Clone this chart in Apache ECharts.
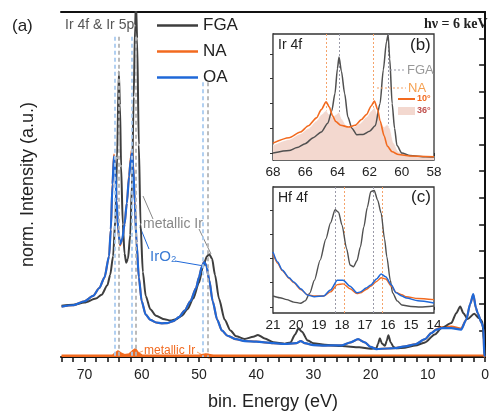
<!DOCTYPE html>
<html>
<head>
<meta charset="utf-8">
<script src="https://cdn.jsdelivr.net/npm/echarts@6.0.0/dist/echarts.min.js"></script>
<style>
  html, body { margin: 0; padding: 0; background: #fff; }
  #chart { width: 492px; height: 416px; }
</style>
</head>
<body>
<div id="chart"></div>
<script>
// main panel (a): valence + Ir 4f / 5p region
const fgaE = [74,72,70,68,67,66,65.5,65,64.6,64.3,64.0,63.8,63.6,63.3,63.0,62.7,62.4,62.0,61.7,61.4,61.15,61.0,60.8,60.5,60.2,59.8,59.3,58.5,57.5,56,55,54,53,52,51,50,49.3,48.6,48.2,47.7,47.2,46.5,45.5,44.5,43.5,42,40.5,39.7,38.5,37,35,34,33.2,32.6,32,31,30,28,25,22,20,19,18.7,18.4,18.0,17.5,17.2,16.9,16.5,16.0,15.5,14,12.2,10.5,8.8,7.6,5.9,5.05,4.35,3.8,3.05,1.9,1.03,0.47,0.2,0.05]
const fgaI = [1.93,1.97,2.05,2.2,2.35,2.7,3.1,3.8,5.2,7.5,10.76,9.5,7.2,5.0,3.9,3.55,3.7,4.6,6.5,9.8,12.5,13.4,12,8,5,3.2,2.3,1.8,1.55,1.42,1.38,1.42,1.55,1.8,2.2,2.8,3.4,3.8,3.87,3.7,3.1,2.2,1.4,1.0,0.78,0.68,0.76,0.83,0.7,0.56,0.5,0.55,0.85,1.08,0.95,0.62,0.52,0.46,0.41,0.37,0.31,0.33,0.5,0.71,0.5,0.42,0.6,0.82,0.55,0.38,0.33,0.35,0.43,0.55,0.85,1.09,1.28,1.65,1.9,1.65,1.43,1.63,1.46,1.34,0.6,0.05]

const oaE = [74,72,70,68.5,67.4,66.5,65.7,65.4,65.1,64.85,64.6,64.4,64.1,63.8,63.4,63.0,62.6,62.2,61.9,61.7,61.5,61.2,60.9,60.5,60.0,59.3,58.5,57.5,56.5,55.5,54.5,53.5,52.5,51.5,50.5,50.0,49.5,49.1,48.7,48.2,47.6,46.8,46,45,43.5,42,40,37,35,33,32.2,31.5,30,28,25,23.5,22.2,21,20,19,17,16,14,12.2,10.5,9.4,8.5,7.6,5.9,4.2,3.3,2.6,2.07,1.6,1.3,0.6,0.3,0.15,0]
const oaI = [1.9,1.95,2.1,2.3,2.6,3.0,3.8,4.8,6.5,7.56,7.0,5.9,4.8,4.25,4.45,5.0,5.8,6.8,7.45,7.67,7.2,5.8,4.3,3.0,2.1,1.6,1.4,1.3,1.27,1.28,1.35,1.5,1.75,2.1,2.6,3.0,3.4,3.58,3.45,2.9,2.1,1.4,1.0,0.8,0.67,0.6,0.58,0.52,0.49,0.52,0.6,0.52,0.45,0.43,0.44,0.55,0.67,0.55,0.38,0.3,0.32,0.33,0.4,0.48,0.67,0.9,1.03,1.09,1.09,1.03,1.4,2.0,2.37,1.85,1.65,1.28,1.1,0.04,0.02]
const naI = [1.9,1.95,2.1,2.3,2.6,3.0,3.8,4.8,6.55,7.63,7.05,5.9,4.75,4.2,4.42,5.0,5.8,6.85,7.55,7.82,7.3,5.85,4.3,3.0,2.1,1.6,1.4,1.3,1.27,1.28,1.35,1.5,1.75,2.1,2.6,3.0,3.4,3.6,3.45,2.9,2.1,1.4,1.0,0.8,0.67,0.6,0.58,0.52,0.49,0.52,0.6,0.52,0.45,0.43,0.44,0.55,0.67,0.55,0.38,0.3,0.32,0.33,0.4,0.48,0.67,0.9,1.05,1.12,1.15,1.07,1.4,2.0,2.35,1.85,1.65,1.28,1.1,0.04,0.02]

// metallic Ir component (orange, bottom)
const metE = [74,66,65,64.5,64.1,63.6,63.0,62.2,61.6,61.1,60.6,60.0,50,48.8,48.3,47.5,46,0.3,0]
const metI = [0.06,0.06,0.07,0.16,0.22,0.13,0.08,0.1,0.22,0.3,0.15,0.07,0.06,0.1,0.09,0.06,0.06,0.06,0]

// peak positions (dashed guides)
const oaPeaks = [64.7, 61.7, 49.3]
const fgaPeaks = [64.0, 61.0, 48.4]
const guideTops = [12.07, 12.07, 10.35]

// inset (b): Ir 4f
const bFgaE = [68,67,66.5,66,65.5,65,64.6,64.35,64.15,64.0,63.9,63.75,63.55,63.35,63.1,62.8,62.4,62.0,61.65,61.35,61.15,60.95,60.85,60.75,60.6,60.45,60.3,60.0,59.5,58.5,58]
const bFgaI = [0,0.1,0.22,0.38,0.62,0.85,1.2,1.7,2.4,3.4,3.87,3.3,2.4,1.45,1.0,0.74,0.75,0.88,1.1,2.0,3.35,4.5,4.77,3.8,2.0,1.0,0.3,0,-0.1,-0.15,-0.16]
const bNa10E = [68,67,66.3,65.8,65.3,65.0,64.7,64.5,64.3,64.1,63.8,63.3,62.9,62.5,62.2,61.9,61.7,61.5,61.35,61.1,60.9,60.6,60.2,59.5,58]
const bNa10I = [0.4,0.62,0.85,1.1,1.42,1.75,2.07,1.85,1.5,1.27,1.12,1.05,1.12,1.35,1.55,1.9,2.1,1.75,1.3,0.7,0.28,0.05,-0.06,-0.12,-0.15]
const bNa36E = [68,67,66.3,65.8,65.3,65.0,64.7,64.5,64.3,64.1,63.9,63.7,63.4,63.0,62.6,62.2,61.9,61.7,61.5,61.3,61.1,60.9,60.75,60.5,60.2,59.5,58]
const bNa36I = [0.32,0.55,0.78,1.0,1.3,1.55,1.72,1.55,1.45,1.55,1.65,1.35,1.05,1.05,1.2,1.45,1.7,1.85,1.55,1.2,1.05,1.15,1.0,0.4,0.05,-0.1,-0.15]
const bFgaPeaks = [63.9, 60.85]
const bNaPeaks = [64.7, 61.75]

// inset (c): Hf 4f
const cFgaE = [21,20.7,20.4,20.1,19.8,19.6,19.4,19.2,18.95,18.7,18.5,18.3,18.15,18.0,17.8,17.65,17.5,17.35,17.2,17.05,16.9,16.75,16.6,16.45,16.3,16.15,16.05,15.9,15.8,15.6,15.4,15.0,14.6,14.0]
const cFgaI = [0.45,0.38,0.3,0.2,0.15,0.25,0.57,1.1,1.93,2.8,3.46,4.0,3.9,3.37,2.4,1.73,1.65,1.9,2.47,3.3,4.1,4.75,4.8,4.4,3.87,2.8,2.06,1.1,0.58,0.25,0.08,0.02,0,0.04]
const cE = [21,20.8,20.6,20.3,20.1,19.8,19.5,19.2,18.8,18.5,18.2,17.95,17.65,17.35,17.2,16.95,16.75,16.5,16.3,16.1,15.85,15.65,15.4,15.2,14.7,14.0]
const cOaI = [2.26,1.85,1.52,1.2,1.03,0.75,0.49,0.42,0.45,0.7,1.1,1.1,0.85,0.58,0.62,0.78,0.9,1.15,1.36,1.24,0.9,0.58,0.45,0.37,0.25,0.16]
const cNaI = [2.2,1.8,1.5,1.18,1.0,0.72,0.5,0.45,0.45,0.62,0.92,0.95,0.75,0.55,0.58,0.72,0.85,1.05,1.2,1.15,0.85,0.6,0.5,0.42,0.35,0.3]
const cFgaPeaks = [18.3, 16.65]
const cNaPeaks = [17.9, 16.25]

const mainXTicks = [0,2,4,6,8,10,12,14,16,18,20,22,24,26,28,30,32,34,36,38,40,42,44,46,48,50,52,54,56,58,60,62,64,66,68,70,72,74]
const mainXLabels = [0,10,20,30,40,50,60,70]
const mainYTicks = [1,2,3,4,5,6,7,8,9,10,11,12]

const GRAY = '#3e3e3e'
const ORANGE = '#f26a1f'
const BLUE = '#1f68d8'
// a flat bar used as legend icon, so the legend shows only a line
const LINE_ICON = 'path://M0,0 L40,0 L40,2.2 L0,2.2 Z'

const zip = (xs, ys) => xs.map((x, i) => [x, ys[i]])

function curve (name, xi, yi, xs, ys, color, width, extra) {
  return Object.assign({
    name: name,
    type: 'line',
    xAxisIndex: xi,
    yAxisIndex: yi,
    data: zip(xs, ys),
    symbol: 'none',
    smooth: 0.25,
    smoothMonotone: 'x',
    lineStyle: { color: color, width: width },
    itemStyle: { color: color }
  }, extra || {})
}

function vlines (vals, color) {
  return vals.map(v => ({ xAxis: v, lineStyle: { color: color } }))
}

const mainGuides = []
oaPeaks.forEach((e, i) => {
  mainGuides.push([{ coord: [e, guideTops[i]], lineStyle: { color: '#a9cbf0' } }, { coord: [e, 0] }])
})
fgaPeaks.forEach((e, i) => {
  mainGuides.push([{ coord: [e, guideTops[i]], lineStyle: { color: '#b4b4b4' } }, { coord: [e, 0] }])
})

const axisLineDark = { show: true, lineStyle: { color: '#111', width: 2 } }
const insetLine = { show: true, lineStyle: { color: '#333', width: 1.3 } }

const chart = echarts.init(document.getElementById('chart'))

const option = {
  animation: false,
  textStyle: { fontFamily: 'Liberation Sans, Arial, sans-serif' },
  legend: {
    data: [
      { name: 'FGA', icon: LINE_ICON },
      { name: 'NA', icon: LINE_ICON },
      { name: 'OA', icon: LINE_ICON }
    ],
    orient: 'vertical',
    left: 157,
    top: 17,
    padding: 0,
    itemWidth: 41,
    itemHeight: 14,
    itemGap: 9,
    textStyle: { fontSize: 17, color: '#222' }
  },
  grid: [
    { left: 61, top: 12, right: 1, bottom: 55 },
    { left: 273, top: 34, width: 161, height: 126, show: true, backgroundColor: '#fff', borderColor: '#333', borderWidth: 1.3, z: 5 },
    { left: 273, top: 187, width: 161, height: 126, show: true, backgroundColor: '#fff', borderColor: '#333', borderWidth: 1.3, z: 5 }
  ],
  xAxis: [
    {
      gridIndex: 0, type: 'value', inverse: true, min: 0, max: 74.1,
      axisLine: axisLineDark,
      axisTick: { show: true, length: 5, customValues: mainXTicks, lineStyle: { color: '#111', width: 1.5 } },
      axisLabel: { fontSize: 14, color: '#222', margin: 11, customValues: mainXLabels },
      splitLine: { show: false },
      name: 'bin. Energy (eV)', nameLocation: 'middle', nameGap: 36,
      nameTextStyle: { fontSize: 18, color: '#222' }
    },
    {
      gridIndex: 0, type: 'value', position: 'top', inverse: true, min: 0, max: 74.1,
      axisLine: axisLineDark, axisTick: { show: false }, axisLabel: { show: false }, splitLine: { show: false }
    },
    {
      gridIndex: 1, type: 'value', inverse: true, min: 58, max: 68, interval: 2,
      axisLine: insetLine,
      axisTick: { length: 3, lineStyle: { color: '#333' } },
      minorTick: { show: true, splitNumber: 4, length: 2, lineStyle: { color: '#333' } },
      axisLabel: { fontSize: 13.5, color: '#222', margin: 5 },
      splitLine: { show: false }
    },
    {
      gridIndex: 2, type: 'value', inverse: true, min: 14, max: 21, interval: 1,
      axisLine: insetLine,
      axisTick: { length: 3, lineStyle: { color: '#333' } },
      minorTick: { show: true, splitNumber: 4, length: 2, lineStyle: { color: '#333' } },
      axisLabel: { fontSize: 13.5, color: '#222', margin: 5 },
      splitLine: { show: false }
    }
  ],
  yAxis: [
    {
      gridIndex: 0, type: 'value', min: 0, max: 13,
      axisLine: axisLineDark,
      axisTick: { show: true, length: 6, customValues: mainYTicks, lineStyle: { color: '#111', width: 1.5 } },
      axisLabel: { show: false },
      splitLine: { show: false },
      name: 'norm. Intensity (a.u.)', nameLocation: 'middle', nameGap: 24,
      nameTextStyle: { fontSize: 18, color: '#222' }
    },
    {
      gridIndex: 1, type: 'value', min: -0.28, max: 4.8,
      axisLine: insetLine,
      axisTick: { show: true, length: 3, customValues: [0, 1, 2, 3, 4], lineStyle: { color: '#333' } },
      axisLabel: { show: false }, splitLine: { show: false }
    },
    {
      gridIndex: 2, type: 'value', min: -0.25, max: 4.94,
      axisLine: insetLine,
      axisTick: { show: true, length: 3, customValues: [0, 1, 2, 3, 4], lineStyle: { color: '#333' } },
      axisLabel: { show: false }, splitLine: { show: false }
    }
  ],
  series: [
    curve('metallic Ir', 0, 0, metE, metI, ORANGE, 2, {
      smooth: false,
      areaStyle: { color: ORANGE, opacity: 1 },
      markLine: {
        silent: true, symbol: 'none', label: { show: false },
        lineStyle: { type: [4, 3], width: 1.8 },
        data: mainGuides
      }
    }),
    curve('NA', 0, 0, oaE, naI, ORANGE, 2),
    curve('FGA', 0, 0, fgaE, fgaI, GRAY, 2),
    curve('OA', 0, 0, oaE, oaI, BLUE, 2.2),

    curve('NA 36°', 2, 1, bNa36E, bNa36I, '#ffffff', 0.8, {
      z: 6,
      areaStyle: { color: '#f3d8cf', opacity: 1, origin: 'start' },
      markLine: {
        silent: true, symbol: 'none', label: { show: false },
        lineStyle: { type: [2, 2], width: 1 },
        data: vlines(bNaPeaks, '#f5a36a').concat(vlines(bFgaPeaks, '#9a9aa8'))
      }
    }),
    curve('FGA', 2, 1, bFgaE, bFgaI, '#505050', 1.5, { z: 7 }),
    curve('NA', 2, 1, bNa10E, bNa10I, ORANGE, 1.6, { z: 8 }),

    curve('FGA', 3, 2, cFgaE, cFgaI, '#505050', 1.4, {
      z: 7,
      markLine: {
        silent: true, symbol: 'none', label: { show: false },
        lineStyle: { type: [2, 2], width: 1 },
        data: vlines(cFgaPeaks, '#9a9aa8').concat(vlines(cNaPeaks, '#f5a36a'))
      }
    }),
    curve('NA', 3, 2, cE, cNaI, ORANGE, 1.4, { z: 8 }),
    curve('OA', 3, 2, cE, cOaI, BLUE, 1.5, { z: 9 })
  ],
  graphic: [
    { type: 'text', x: 12, y: 26, style: { text: '(a)', font: '17px Liberation Sans', fill: '#222', verticalAlign: 'middle' } },
    { type: 'text', x: 65, y: 25, style: { text: 'Ir 4f & Ir 5p', font: '14px Liberation Sans', fill: '#555', verticalAlign: 'middle' } },
    { type: 'text', x: 424, y: 24, style: { text: 'hν = 6 keV', font: 'bold 14px Liberation Serif', fill: '#222', verticalAlign: 'middle' } },

    { type: 'text', x: 278, y: 45, z: 20, style: { text: 'Ir 4f', font: '14px Liberation Sans', fill: '#222', verticalAlign: 'middle' } },
    { type: 'text', x: 410, y: 45, z: 20, style: { text: '(b)', font: '17px Liberation Sans', fill: '#222', verticalAlign: 'middle' } },
    { type: 'line', z: 20, shape: { x1: 390, y1: 70, x2: 406, y2: 70 }, style: { stroke: '#9a9aa8', lineWidth: 1, lineDash: [2, 2] } },
    { type: 'text', x: 407, y: 70, z: 20, style: { text: 'FGA', font: '13px Liberation Sans', fill: '#999', verticalAlign: 'middle' } },
    { type: 'line', z: 20, shape: { x1: 377, y1: 88, x2: 406, y2: 88 }, style: { stroke: '#f5a36a', lineWidth: 1, lineDash: [2, 2] } },
    { type: 'text', x: 408, y: 88, z: 20, style: { text: 'NA', font: '13px Liberation Sans', fill: '#f5a050', verticalAlign: 'middle' } },
    { type: 'line', z: 20, shape: { x1: 398, y1: 99, x2: 415, y2: 99 }, style: { stroke: ORANGE, lineWidth: 2 } },
    { type: 'text', x: 417, y: 99, z: 20, style: { text: '10°', font: 'bold 9px Liberation Sans', fill: ORANGE, verticalAlign: 'middle' } },
    { type: 'rect', z: 20, shape: { x: 398, y: 107, width: 17, height: 8 }, style: { fill: '#f3d8cf' } },
    { type: 'text', x: 417, y: 111, z: 20, style: { text: '36°', font: 'bold 9px Liberation Sans', fill: '#c0504d', verticalAlign: 'middle' } },

    { type: 'text', x: 278, y: 198, z: 20, style: { text: 'Hf 4f', font: '14px Liberation Sans', fill: '#222', verticalAlign: 'middle' } },
    { type: 'text', x: 411, y: 197, z: 20, style: { text: '(c)', font: '17px Liberation Sans', fill: '#222', verticalAlign: 'middle' } },

    { type: 'line', shape: { x1: 143, y1: 196, x2: 153, y2: 219 }, style: { stroke: '#888', lineWidth: 1 } },
    { type: 'line', shape: { x1: 199, y1: 229, x2: 211, y2: 254 }, style: { stroke: '#888', lineWidth: 1 } },
    { type: 'text', x: 143, y: 224, style: { text: 'metallic Ir', font: '14px Liberation Sans', fill: '#888', verticalAlign: 'middle' } },
    { type: 'line', shape: { x1: 140, y1: 227, x2: 149, y2: 249 }, style: { stroke: BLUE, lineWidth: 1 } },
    { type: 'line', shape: { x1: 175, y1: 261, x2: 204, y2: 266 }, style: { stroke: BLUE, lineWidth: 1 } },
    { type: 'text', x: 150, y: 257, style: { text: 'IrO₂', font: '15px Liberation Sans', fill: '#3a7bd5', verticalAlign: 'middle' } },

    { type: 'line', shape: { x1: 133, y1: 355, x2: 143, y2: 351 }, style: { stroke: '#f5a36a', lineWidth: 1 } },
    { type: 'line', shape: { x1: 197, y1: 352, x2: 210, y2: 359 }, style: { stroke: '#f5a36a', lineWidth: 1 } },
    { type: 'text', x: 144, y: 351, style: { text: 'metallic Ir', font: '12px Liberation Sans', fill: ORANGE, verticalAlign: 'middle' } }
  ]
}

chart.setOption(option)
</script>
</body>
</html>
